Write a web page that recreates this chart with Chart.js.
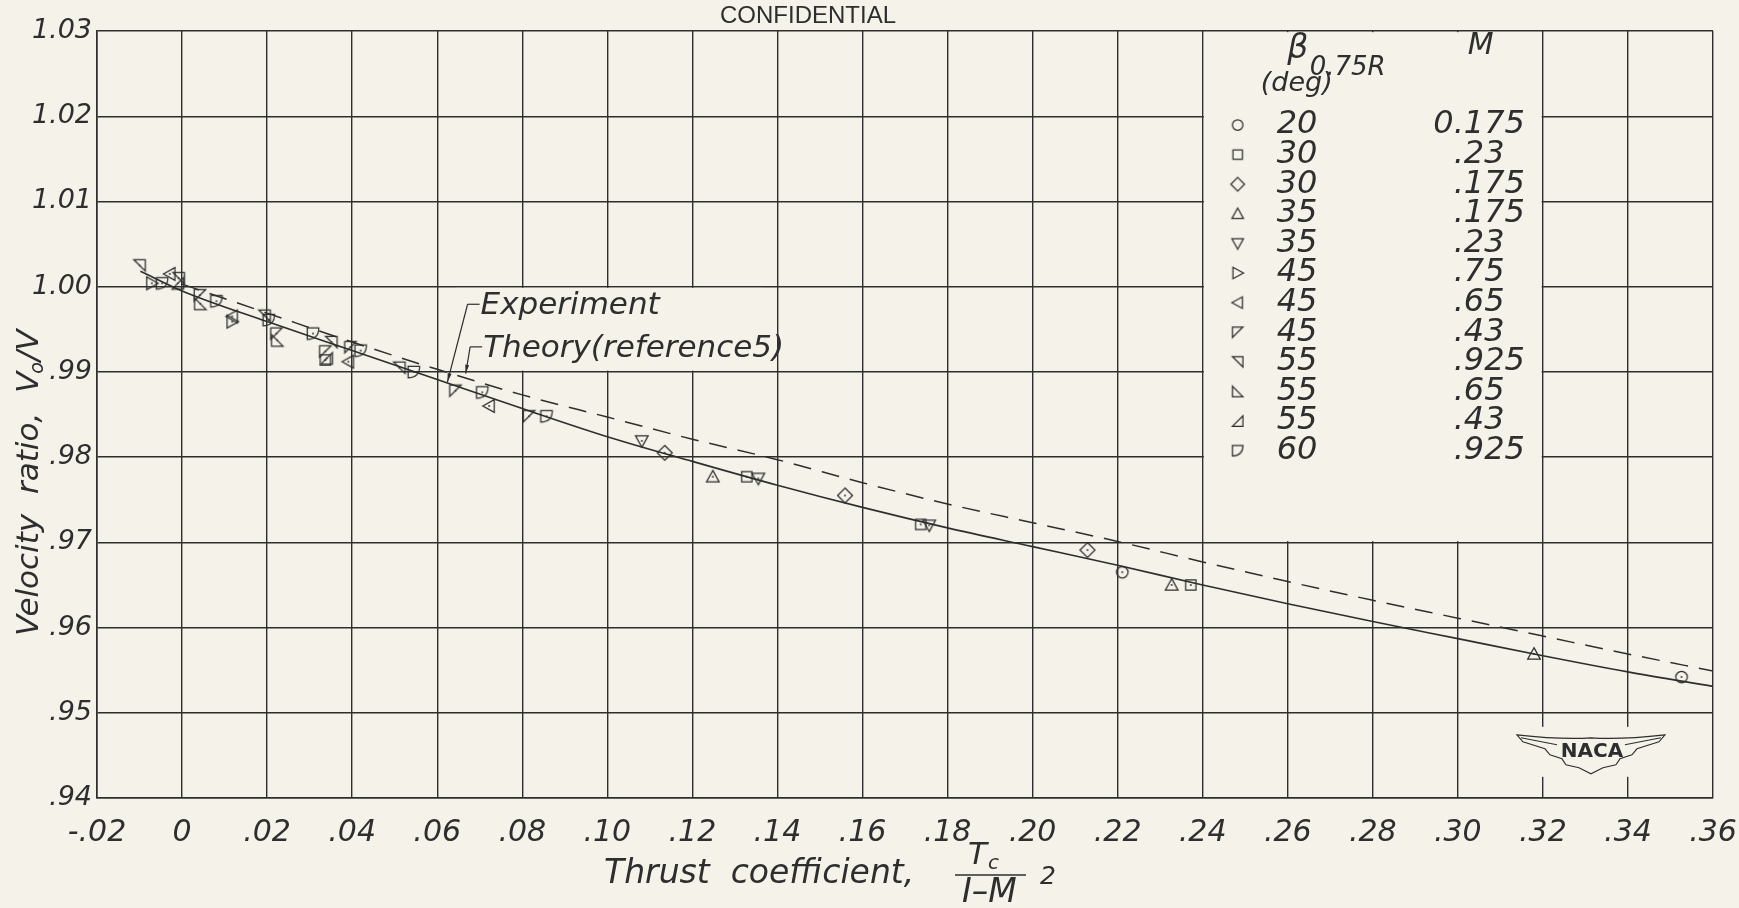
<!DOCTYPE html>
<html>
<head>
<meta charset="utf-8">
<script src="https://cdn.jsdelivr.net/npm/chart.js@4.4.1/dist/chart.umd.min.js"></script>
<style>
  html, body { margin: 0; padding: 0; background: #f4f2e9; }
  #wrap { width: 1739px; height: 908px; }
</style>
</head>
<body>
<div id="wrap"><canvas id="chart" width="1739" height="908"></canvas></div>
<script>
// Velocity ratio vs. thrust coefficient, NACA figure redrawn with Chart.js.

// ---- data ----
const xTickLabels = ["-.02", "0", ".02", ".04", ".06", ".08", ".10", ".12", ".14", ".16",
  ".18", ".20", ".22", ".24", ".26", ".28", ".30", ".32", ".34", ".36"];
const yTickLabels = [".94", ".95", ".96", ".97", ".98", ".99", "1.00", "1.01", "1.02", "1.03"];

// faired experiment curve (solid) and theory (dashed)
const experimentX = [-0.0098, 0, 0.02, 0.04, 0.06, 0.08, 0.10, 0.12, 0.14, 0.16, 0.18, 0.20, 0.22, 0.24, 0.26, 0.28, 0.30, 0.32, 0.34, 0.36];
const experimentY = [1.0018, 0.9995, 0.9959, 0.9925, 0.9891, 0.9857, 0.9824, 0.9795, 0.9767, 0.9741, 0.9717, 0.9695, 0.9673, 0.9650, 0.9628, 0.9607, 0.9587, 0.9567, 0.9548, 0.9531];
const theoryX = [0, 0.02, 0.04, 0.06, 0.08, 0.10, 0.12, 0.14, 0.16, 0.18, 0.20, 0.22, 0.24, 0.26, 0.28, 0.30, 0.32, 0.34, 0.36];
const theoryY = [1.0003, 0.9969, 0.9935, 0.9903, 0.9873, 0.9847, 0.9821, 0.9797, 0.9770, 0.9745, 0.9723, 0.9701, 0.9677, 0.9654, 0.9632, 0.9611, 0.9590, 0.9569, 0.9549];

// legend rows: blade angle at 0.75R (deg) and Mach number
const betaDeg = ["20", "30", "30", "35", "35", "45", "45", "45", "55", "55", "55", "60"];
const machNo = ["0.175", ".23", ".175", ".175", ".23", ".75", ".65", ".43", ".925", ".65", ".43", ".925"];

// test points [Tc/(1-M^2), V0/V], one array per legend row
const b20m175 = [[0.2211, 0.9665], [0.3526, 0.9542]];
const b30m23 = [[0.0337, 0.9914], [0.1328, 0.9777], [0.1737, 0.9721], [0.2372, 0.9650]];
const b30m175 = [[0.1135, 0.9805], [0.1559, 0.9755], [0.2129, 0.9691]];
const b35m175 = [[0.1248, 0.9777], [0.2327, 0.9650], [0.3179, 0.9569]];
const b35m23 = [[0.1081, 0.9819], [0.1355, 0.9775], [0.1757, 0.9720]];
const b45m75 = [[-0.0071, 1.0004], [0.0118, 0.9959]];
const b45m65 = [[-0.0029, 1.0015], [0.0118, 0.9965], [0.0391, 0.9912], [0.0722, 0.9860]];
const b45m43 = [[0.0042, 0.9990], [0.0222, 0.9945], [0.0337, 0.9924], [0.0396, 0.9929], [0.0643, 0.9878], [0.0816, 0.9848]];
const b55m925 = [[-0.0100, 1.0025], [-0.0008, 1.0010], [0.0194, 0.9966], [0.0351, 0.9935], [0.0511, 0.9905]];
const b55m65 = [[0.0043, 0.9980], [0.0224, 0.9937]];
const b55m43 = [[-0.0010, 1.0004], [0.0340, 0.9916]];
const b60m925 = [[-0.0047, 1.0004], [0.0081, 0.9983], [0.0204, 0.9961], [0.0308, 0.9945], [0.0420, 0.9925], [0.0545, 0.9900], [0.0706, 0.9876], [0.0857, 0.9848]];

const seriesPoints = [b20m175, b30m23, b30m175, b35m175, b35m23, b45m75, b45m65, b45m43, b55m925, b55m65, b55m43, b60m925];
const seriesSymbols = ["circle", "square", "diamond", "up", "down", "right", "left", "flagTL", "flagTR", "flagBL", "flagBR", "dee"];

// ---- look ----
const PAPER = "#f4f2e9";
const INK = "#2e2e2e";
const FAMILY = "'DejaVu Sans', 'Liberation Sans', sans-serif";
const font = (size, style = "italic", weight = 200) => `${style} ${weight} ${size}px ${FAMILY}`;

function markerCanvas(kind, dot, s = 1) {
  const c = document.createElement("canvas");
  c.width = c.height = 20;
  const g = c.getContext("2d");
  g.translate(10, 10);
  g.scale(s, s);
  g.strokeStyle = INK;
  g.lineWidth = 1.25 / s;
  g.beginPath();
  const poly = (pts) => {
    g.moveTo(pts[0][0], pts[0][1]);
    pts.slice(1).forEach((p) => g.lineTo(p[0], p[1]));
    g.closePath();
  };
  switch (kind) {
    case "circle": g.arc(0, 0, 5, 0, Math.PI * 2); break;
    case "square": g.rect(-4.5, -4.5, 9, 9); break;
    case "diamond": poly([[0, -6.5], [6.5, 0], [0, 6.5], [-6.5, 0]]); break;
    case "up": poly([[0, -5.5], [5.5, 4.5], [-5.5, 4.5]]); break;
    case "down": poly([[0, 5.5], [5.5, -4.5], [-5.5, -4.5]]); break;
    case "right": poly([[5.5, 0], [-4.5, -5.5], [-4.5, 5.5]]); break;
    case "left": poly([[-5.5, 0], [4.5, -5.5], [4.5, 5.5]]); break;
    case "flagTL": poly([[-5, -5], [5, -5], [-5, 5]]); break;
    case "flagTR": poly([[-5, -5], [5, -5], [5, 5]]); break;
    case "flagBL": poly([[-5, -5], [-5, 5], [5, 5]]); break;
    case "flagBR": poly([[5, -5], [5, 5], [-5, 5]]); break;
    case "dee":
      g.moveTo(-5, -5); g.lineTo(5, -5); g.quadraticCurveTo(5, 5, -5, 5); g.closePath(); break;
  }
  g.stroke();
  if (dot) {
    g.fillStyle = INK;
    g.beginPath(); g.arc(0, 0, 0.9 / s, 0, Math.PI * 2); g.fill();
  }
  return c;
}

// regions of the grid left blank on the original sheet (data units)
const legendBox = { x0: 0.24, x1: 0.32, y0: 0.97, y1: 1.03 };
const labelBox = { x0: 0.064, x1: 0.137, y0: 0.99, y1: 1.00 };
const expLabel = { x: 0.0702, y: 0.9977, tipX: 0.0624, tipY: 0.9888 };
const theoryLabel = { x: 0.0708, y: 0.9927, tipX: 0.0667, tipY: 0.9898 };
const logoAt = { x: 0.3313, y: 0.9453 };

function arrow(ctx, x0, y0, x1, y1) {
  ctx.beginPath(); ctx.moveTo(x0, y0); ctx.lineTo(x1, y1); ctx.stroke();
  const a = Math.atan2(y1 - y0, x1 - x0);
  ctx.beginPath();
  ctx.moveTo(x1, y1);
  ctx.lineTo(x1 - 9 * Math.cos(a - 0.22), y1 - 9 * Math.sin(a - 0.22));
  ctx.lineTo(x1 - 9 * Math.cos(a + 0.22), y1 - 9 * Math.sin(a + 0.22));
  ctx.closePath(); ctx.fill();
}

const paperPlugin = {
  id: "paper",
  beforeDraw(chart) {
    const ctx = chart.ctx;
    ctx.save(); ctx.fillStyle = PAPER; ctx.fillRect(0, 0, chart.width, chart.height); ctx.restore();
  },
  beforeDatasetsDraw(chart) {
    const { ctx, scales: { x, y } } = chart;
    ctx.save();
    ctx.fillStyle = PAPER;
    [legendBox, labelBox].forEach((b) => {
      const l = x.getPixelForValue(b.x0) + 1.2, r = x.getPixelForValue(b.x1) - 1.2;
      const t = y.getPixelForValue(b.y1) + 1.2, bt = y.getPixelForValue(b.y0) - 1.2;
      ctx.fillRect(l, t, r - l, bt - t);
    });
    const lx = x.getPixelForValue(logoAt.x), ly = y.getPixelForValue(logoAt.y);
    ctx.fillRect(lx - 78, ly - 26, 156, 50);
    ctx.restore();
  },
  afterDatasetsDraw(chart) {
    const { ctx, scales: { x, y } } = chart;
    ctx.save();
    ctx.fillStyle = INK; ctx.strokeStyle = INK; ctx.lineWidth = 1.2;

    // annotations with leaders
    [[expLabel, "Experiment"], [theoryLabel, "Theory(reference5)"]].forEach(([a, txt]) => {
      const tx = x.getPixelForValue(a.x), ty = y.getPixelForValue(a.y);
      const cx = tx - 13;
      ctx.beginPath(); ctx.moveTo(cx, ty - 2); ctx.lineTo(tx - 1, ty - 2); ctx.stroke();
      arrow(ctx, cx, ty - 2, x.getPixelForValue(a.tipX), y.getPixelForValue(a.tipY));
      ctx.font = font(31); ctx.textAlign = "left"; ctx.textBaseline = "middle";
      ctx.fillText(txt, tx, ty);
    });

    // legend table
    const L = x.getPixelForValue(legendBox.x0), T = y.getPixelForValue(legendBox.y1);
    ctx.textBaseline = "middle";
    ctx.font = font(33); ctx.textAlign = "center";
    ctx.fillText("\u03B2", L + 95, T + 18);
    ctx.font = font(26); ctx.textAlign = "left";
    ctx.fillText("0.75R", L + 107, T + 37);
    ctx.font = font(27); ctx.textAlign = "center";
    ctx.fillText("(deg)", L + 94, T + 53);
    ctx.font = font(30);
    ctx.fillText("M", L + 278, T + 15);
    betaDeg.forEach((b, i) => {
      const ry = T + 94 + i * 29.6;
      ctx.drawImage(markerCanvas(seriesSymbols[i], false, 1.05), L + 35 - 10, ry - 10);
      ctx.font = font(32); ctx.textAlign = "left";
      ctx.fillText(b, L + 74, ry);
      const m = machNo[i];
      const dot = m.indexOf(".");
      const pre = m.slice(0, dot);
      ctx.fillText(m, L + 251 - ctx.measureText(pre).width, ry);
    });

    // NACA wings emblem
    const lx = x.getPixelForValue(logoAt.x), ly = y.getPixelForValue(logoAt.y);
    ctx.lineWidth = 1.1;
    ctx.beginPath();
    ctx.moveTo(lx - 74, ly - 18); ctx.quadraticCurveTo(lx - 30, ly - 13, lx, ly - 15);
    ctx.quadraticCurveTo(lx + 30, ly - 13, lx + 74, ly - 18);
    ctx.lineTo(lx + 68, ly - 11); ctx.lineTo(lx + 46, ly - 4); ctx.lineTo(lx + 41, ly + 2);
    ctx.lineTo(lx + 29, ly + 6); ctx.lineTo(lx + 25, ly + 12); ctx.lineTo(lx + 12, ly + 15);
    ctx.lineTo(lx, ly + 21); ctx.lineTo(lx - 12, ly + 15); ctx.lineTo(lx - 25, ly + 12);
    ctx.lineTo(lx - 29, ly + 6); ctx.lineTo(lx - 41, ly + 2); ctx.lineTo(lx - 46, ly - 4);
    ctx.lineTo(lx - 68, ly - 11); ctx.closePath();
    ctx.fillStyle = PAPER; ctx.fill(); ctx.stroke();
    ctx.beginPath(); ctx.moveTo(lx - 70, ly - 15); ctx.lineTo(lx - 34, ly - 8);
    ctx.moveTo(lx + 70, ly - 15); ctx.lineTo(lx + 34, ly - 8); ctx.stroke();
    ctx.fillStyle = INK;
    ctx.font = `normal 600 20px ${FAMILY}`; ctx.textAlign = "center";
    ctx.fillText("NACA", lx + 1, ly - 1);

    ctx.restore();
  },
  afterDraw(chart) {
    const { ctx, chartArea } = chart;
    ctx.save();
    ctx.fillStyle = INK; ctx.strokeStyle = INK;
    ctx.textBaseline = "middle";

    // sheet marking
    ctx.font = `normal 400 24px 'Liberation Sans', ${FAMILY}`; ctx.textAlign = "center";
    ctx.fillText("CONFIDENTIAL", 808, 16);

    // x axis title with fraction
    const by = chartArea.bottom + 76;
    ctx.textAlign = "left";
    ctx.font = font(33);
    ctx.fillText("Thrust  coefficient,", 604, by);
    ctx.font = font(31);
    ctx.fillText("T", 968, by - 18);
    ctx.font = font(20);
    ctx.fillText("c", 988, by - 10);
    ctx.lineWidth = 1.3;
    ctx.beginPath(); ctx.moveTo(955, by + 1); ctx.lineTo(1026, by + 1); ctx.stroke();
    ctx.font = font(33);
    ctx.fillText("I\u2013M", 962, by + 19);
    ctx.font = font(25);
    ctx.fillText("2", 1040, by + 3);

    // y axis title, rotated
    ctx.translate(30, 636);
    ctx.rotate(-Math.PI / 2);
    ctx.font = font(31);
    let px = 0;
    const head = "Velocity  ratio,  V";
    ctx.fillText(head, px, 0); px += ctx.measureText(head).width;
    ctx.font = font(19);
    ctx.fillText("o", px - 2, 8); px += ctx.measureText("o").width - 1;
    ctx.font = font(31);
    ctx.fillText("/V", px, 0);
    ctx.restore();
  },
};

const toXY = (xs, ys) => xs.map((v, i) => ({ x: v, y: ys[i] }));

const datasets = [
  {
    type: "line", label: "Experiment", data: toXY(experimentX, experimentY),
    borderColor: INK, borderWidth: 1.6, pointRadius: 0, cubicInterpolationMode: "monotone", fill: false, order: 2,
  },
  {
    type: "line", label: "Theory (reference 5)", data: toXY(theoryX, theoryY),
    borderColor: INK, borderWidth: 1.5, borderDash: [18, 11], pointRadius: 0, cubicInterpolationMode: "monotone", fill: false, order: 2,
  },
  ...seriesPoints.map((pts, i) => ({
    type: "scatter",
    label: `${betaDeg[i]} deg, M ${machNo[i]}`,
    data: pts.map(([px, py]) => ({ x: px, y: py })),
    pointStyle: markerCanvas(seriesSymbols[i], true, 1.15),
    pointRadius: 6,
    order: 1,
  })),
];

const tickFont = (size) => ({ family: FAMILY, size, style: "italic", weight: 200 });

new Chart(document.getElementById("chart"), {
  type: "scatter",
  data: { datasets },
  options: {
    responsive: false,
    animation: false,
    events: [],
    layout: { padding: { top: 31, right: 26, left: 0, bottom: 0 } },
    plugins: { legend: { display: false }, tooltip: { enabled: false } },
    scales: {
      x: {
        type: "linear", min: -0.02, max: 0.36,
        ticks: { stepSize: 0.02, autoSkip: false, maxRotation: 0, color: INK, font: tickFont(30), padding: 17,
          callback: (v, i) => xTickLabels[i] },
        grid: { color: INK, lineWidth: 1.4, drawTicks: false },
        border: { color: INK, width: 1.6 },
        afterFit: (s) => { s.height = 110; s.paddingLeft = 0; s.paddingRight = 0; },
      },
      y: {
        type: "linear", min: 0.94, max: 1.03,
        ticks: { stepSize: 0.01, autoSkip: false, color: INK, font: tickFont(27), padding: 5,
          callback: (v, i) => yTickLabels[i] },
        grid: { color: INK, lineWidth: 1.4, drawTicks: false },
        border: { color: INK, width: 1.6 },
        afterFit: (s) => { s.width = 97; s.paddingTop = 0; s.paddingBottom = 0; },
      },
    },
  },
  plugins: [paperPlugin],
});
</script>
</body>
</html>
